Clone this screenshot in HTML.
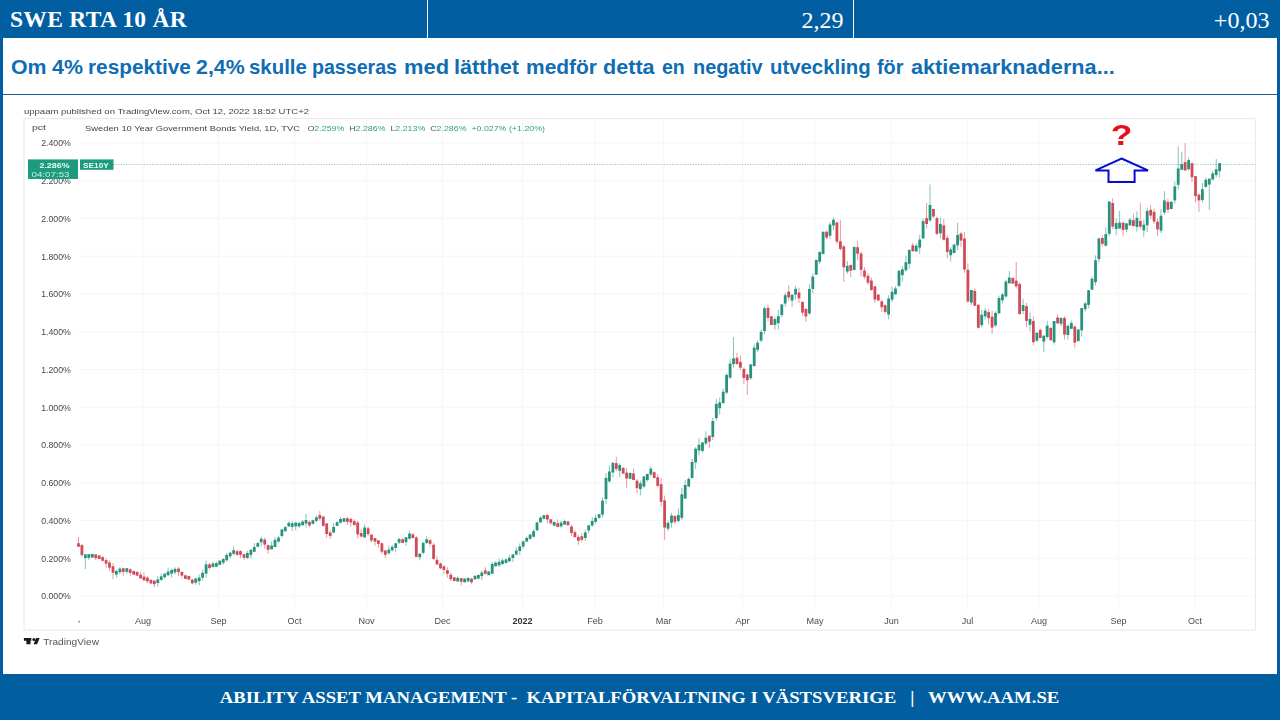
<!DOCTYPE html>
<html><head><meta charset="utf-8">
<style>
html,body{margin:0;padding:0;}
body{width:1280px;height:720px;overflow:hidden;background:#015fa1;position:relative;font-family:"Liberation Sans",sans-serif;}
.abs{position:absolute;}
#panel{left:3px;top:38px;width:1274px;height:636px;background:#fff;}
.hd{color:#fff;font-family:"Liberation Serif",serif;font-size:23.5px;line-height:39.4px;top:0;height:38px;white-space:nowrap;}
.div{top:0;width:1px;height:38px;background:#fff;}
#title{left:0;top:51.9px;color:#0f6db3;font-weight:bold;font-size:20.5px;line-height:30px;white-space:nowrap;transform-origin:0 50%;}
#title span{position:absolute;top:0;white-space:nowrap;transform-origin:0 50%;}
#rule{left:3px;top:94px;width:1274px;height:1.3px;background:#1c5f8e;}
#foot{left:0;width:1280px;top:674px;height:46px;color:#fff;font-family:"Liberation Serif",serif;font-weight:bold;font-size:17px;line-height:48.4px;text-align:center;white-space:pre;}
#foot span{display:inline-block;transform:scaleX(1.1);transform-origin:50% 50%;}
svg text{font-family:"Liberation Sans",sans-serif;}
</style></head><body>
<div id="panel" class="abs"></div>
<div class="abs hd" style="left:10px;font-weight:bold;letter-spacing:.3px">SWE RTA 10 ÅR</div>
<div class="abs div" style="left:427px"></div>
<div class="abs hd" style="right:436.6px;font-size:24px;line-height:40.9px">2,29</div>
<div class="abs div" style="left:853px"></div>
<div class="abs hd" style="right:10.6px;font-size:24px;line-height:40.9px">+0,03</div>
<div id="title" class="abs"><span style="left:11.3px;transform:scaleX(1.0413)">Om</span><span style="left:51.9px;transform:scaleX(1.0425)">4%</span><span style="left:87.8px;transform:scaleX(1.0139)">respektive</span><span style="left:195.7px;transform:scaleX(1.0432)">2,4%</span><span style="left:249.4px;transform:scaleX(0.9944)">skulle</span><span style="left:311.9px;transform:scaleX(0.9559)">passeras</span><span style="left:403.8px;transform:scaleX(1.0674)">med</span><span style="left:453.8px;transform:scaleX(1.0569)">lätthet</span><span style="left:525.6px;transform:scaleX(1.0219)">medför</span><span style="left:602.8px;transform:scaleX(1.0535)">detta</span><span style="left:662.2px;transform:scaleX(0.9524)">en</span><span style="left:692.8px;transform:scaleX(0.9696)">negativ</span><span style="left:770.0px;transform:scaleX(0.9927)">utveckling</span><span style="left:876.9px;transform:scaleX(0.9696)">för</span><span style="left:910.6px;transform:scaleX(1.0580)">aktiemarknaderna...</span></div>
<div id="rule" class="abs"></div>
<svg class="abs" style="left:0;top:0" width="1280" height="720" viewBox="0 0 1280 720">
<g id="chart" style="filter:blur(0.45px)">
<!-- frame -->
<rect x="24" y="118.5" width="1231.5" height="511.6" fill="none" stroke="#ebebeb" stroke-width="1.2"/>
<g stroke="#f6f6f6" stroke-width="1">
<line x1="78" y1="596.0" x2="1255" y2="596.0"/>
<line x1="78" y1="558.2" x2="1255" y2="558.2"/>
<line x1="78" y1="520.5" x2="1255" y2="520.5"/>
<line x1="78" y1="482.8" x2="1255" y2="482.8"/>
<line x1="78" y1="445.0" x2="1255" y2="445.0"/>
<line x1="78" y1="407.2" x2="1255" y2="407.2"/>
<line x1="78" y1="369.5" x2="1255" y2="369.5"/>
<line x1="78" y1="331.8" x2="1255" y2="331.8"/>
<line x1="78" y1="294.0" x2="1255" y2="294.0"/>
<line x1="78" y1="256.2" x2="1255" y2="256.2"/>
<line x1="78" y1="218.5" x2="1255" y2="218.5"/>
<line x1="78" y1="180.8" x2="1255" y2="180.8"/>
<line x1="78" y1="143.0" x2="1255" y2="143.0"/>
<line x1="143" y1="119" x2="143" y2="611"/>
<line x1="218.5" y1="119" x2="218.5" y2="611"/>
<line x1="294.5" y1="119" x2="294.5" y2="611"/>
<line x1="366.5" y1="119" x2="366.5" y2="611"/>
<line x1="442.5" y1="119" x2="442.5" y2="611"/>
<line x1="522.5" y1="119" x2="522.5" y2="611"/>
<line x1="595" y1="119" x2="595" y2="611"/>
<line x1="663.5" y1="119" x2="663.5" y2="611"/>
<line x1="742.5" y1="119" x2="742.5" y2="611"/>
<line x1="815" y1="119" x2="815" y2="611"/>
<line x1="891.5" y1="119" x2="891.5" y2="611"/>
<line x1="967.5" y1="119" x2="967.5" y2="611"/>
<line x1="1039" y1="119" x2="1039" y2="611"/>
<line x1="1118.5" y1="119" x2="1118.5" y2="611"/>
<line x1="1195" y1="119" x2="1195" y2="611"/>
</g>
<g font-size="8.7" fill="#484848" text-anchor="end">
<text x="70.8" y="599.3" textLength="29.6" lengthAdjust="spacingAndGlyphs">0.000%</text>
<text x="70.8" y="561.5" textLength="29.6" lengthAdjust="spacingAndGlyphs">0.200%</text>
<text x="70.8" y="523.8" textLength="29.6" lengthAdjust="spacingAndGlyphs">0.400%</text>
<text x="70.8" y="486.1" textLength="29.6" lengthAdjust="spacingAndGlyphs">0.600%</text>
<text x="70.8" y="448.3" textLength="29.6" lengthAdjust="spacingAndGlyphs">0.800%</text>
<text x="70.8" y="410.6" textLength="29.6" lengthAdjust="spacingAndGlyphs">1.000%</text>
<text x="70.8" y="372.8" textLength="29.6" lengthAdjust="spacingAndGlyphs">1.200%</text>
<text x="70.8" y="335.1" textLength="29.6" lengthAdjust="spacingAndGlyphs">1.400%</text>
<text x="70.8" y="297.3" textLength="29.6" lengthAdjust="spacingAndGlyphs">1.600%</text>
<text x="70.8" y="259.6" textLength="29.6" lengthAdjust="spacingAndGlyphs">1.800%</text>
<text x="70.8" y="221.8" textLength="29.6" lengthAdjust="spacingAndGlyphs">2.000%</text>
<text x="70.8" y="184.1" textLength="29.6" lengthAdjust="spacingAndGlyphs">2.200%</text>
<text x="70.8" y="146.3" textLength="29.6" lengthAdjust="spacingAndGlyphs">2.400%</text>
</g>
<g font-size="8.5" fill="#4a4a4a" text-anchor="middle">
<text transform="translate(143 623.6) scale(1.07 1)">Aug</text>
<text transform="translate(218.5 623.6) scale(1.07 1)">Sep</text>
<text transform="translate(294.5 623.6) scale(1.07 1)">Oct</text>
<text transform="translate(366.5 623.6) scale(1.07 1)">Nov</text>
<text transform="translate(442.5 623.6) scale(1.07 1)">Dec</text>
<text transform="translate(522.5 623.6) scale(1.07 1)" font-weight="bold" fill="#333">2022</text>
<text transform="translate(595 623.6) scale(1.07 1)">Feb</text>
<text transform="translate(663.5 623.6) scale(1.07 1)">Mar</text>
<text transform="translate(742.5 623.6) scale(1.07 1)">Apr</text>
<text transform="translate(815 623.6) scale(1.07 1)">May</text>
<text transform="translate(891.5 623.6) scale(1.07 1)">Jun</text>
<text transform="translate(967.5 623.6) scale(1.07 1)">Jul</text>
<text transform="translate(1039 623.6) scale(1.07 1)">Aug</text>
<text transform="translate(1118.5 623.6) scale(1.07 1)">Sep</text>
<text transform="translate(1195 623.6) scale(1.07 1)">Oct</text>
<rect x="78.5" y="620.8" width="1.2" height="1.8" fill="#666"/>
</g>
<text x="24" y="113.6" font-size="8" fill="#444" textLength="285" lengthAdjust="spacingAndGlyphs">uppaam published on TradingView.com, Oct 12, 2022 18:52 UTC+2</text>
<text x="32" y="129.8" font-size="8" fill="#444" textLength="14" lengthAdjust="spacingAndGlyphs">pct</text>
<text x="85" y="130.8" font-size="8" fill="#444" textLength="215" lengthAdjust="spacingAndGlyphs">Sweden 10 Year Government Bonds Yield, 1D, TVC</text>
<text x="307.5" y="130.8" font-size="8" fill="#2e9f87" xml:space="preserve" textLength="237.5" lengthAdjust="spacingAndGlyphs"><tspan fill="#555">O</tspan>2.259%  <tspan fill="#555">H</tspan>2.286%  <tspan fill="#555">L</tspan>2.213%  <tspan fill="#555">C</tspan>2.286%  +0.027% (+1.20%)</text>
<!-- price line -->
<line x1="113" y1="164.5" x2="1255" y2="164.5" stroke="#8fcdbd" stroke-width="1" stroke-dasharray="1.2 1.4"/>
<rect x="78.0" y="537.0" width="1" height="9.8" fill="#d04b58" opacity=".55"/>
<rect x="77.1" y="543.2" width="2.8" height="3.6" fill="#d04b58"/>
<rect x="81.4" y="544.1" width="1" height="13.0" fill="#d04b58" opacity=".55"/>
<rect x="80.5" y="545.1" width="2.8" height="10.0" fill="#d04b58"/>
<rect x="84.9" y="554.4" width="1" height="14.6" fill="#27937c" opacity=".55"/>
<rect x="84.0" y="554.4" width="2.8" height="3.6" fill="#27937c"/>
<rect x="88.3" y="554.2" width="1" height="5.6" fill="#27937c" opacity=".55"/>
<rect x="87.4" y="554.2" width="2.8" height="3.6" fill="#27937c"/>
<rect x="91.8" y="553.9" width="1" height="4.1" fill="#27937c" opacity=".55"/>
<rect x="90.9" y="553.9" width="2.8" height="3.6" fill="#27937c"/>
<rect x="95.2" y="554.4" width="1" height="5.6" fill="#d04b58" opacity=".55"/>
<rect x="94.3" y="554.4" width="2.8" height="3.6" fill="#d04b58"/>
<rect x="98.7" y="554.9" width="1" height="4.1" fill="#d04b58" opacity=".55"/>
<rect x="97.8" y="555.4" width="2.8" height="3.6" fill="#d04b58"/>
<rect x="102.1" y="555.7" width="1" height="5.6" fill="#d04b58" opacity=".55"/>
<rect x="101.2" y="557.2" width="2.8" height="3.6" fill="#d04b58"/>
<rect x="105.6" y="558.1" width="1" height="9.6" fill="#d04b58" opacity=".55"/>
<rect x="104.7" y="560.1" width="2.8" height="3.6" fill="#d04b58"/>
<rect x="109.0" y="560.5" width="1" height="10.2" fill="#d04b58" opacity=".55"/>
<rect x="108.1" y="562.5" width="2.8" height="5.2" fill="#d04b58"/>
<rect x="112.5" y="563.2" width="1" height="15.8" fill="#d04b58" opacity=".55"/>
<rect x="111.6" y="566.2" width="2.8" height="6.6" fill="#d04b58"/>
<rect x="115.9" y="569.5" width="1" height="8.1" fill="#27937c" opacity=".55"/>
<rect x="115.0" y="571.0" width="2.8" height="3.6" fill="#27937c"/>
<rect x="119.4" y="567.1" width="1" height="7.1" fill="#27937c" opacity=".55"/>
<rect x="118.5" y="568.6" width="2.8" height="3.6" fill="#27937c"/>
<rect x="122.8" y="567.8" width="1" height="8.1" fill="#d04b58" opacity=".55"/>
<rect x="121.9" y="568.3" width="2.8" height="3.6" fill="#d04b58"/>
<rect x="126.3" y="568.2" width="1" height="5.6" fill="#27937c" opacity=".55"/>
<rect x="125.4" y="568.2" width="2.8" height="3.6" fill="#27937c"/>
<rect x="129.7" y="568.3" width="1" height="7.6" fill="#d04b58" opacity=".55"/>
<rect x="128.8" y="569.3" width="2.8" height="3.6" fill="#d04b58"/>
<rect x="133.2" y="571.0" width="1" height="3.6" fill="#d04b58" opacity=".55"/>
<rect x="132.3" y="571.0" width="2.8" height="3.6" fill="#d04b58"/>
<rect x="136.6" y="571.0" width="1" height="5.1" fill="#d04b58" opacity=".55"/>
<rect x="135.7" y="572.0" width="2.8" height="3.6" fill="#d04b58"/>
<rect x="140.1" y="571.7" width="1" height="6.7" fill="#d04b58" opacity=".55"/>
<rect x="139.2" y="574.7" width="2.8" height="3.7" fill="#d04b58"/>
<rect x="143.5" y="572.6" width="1" height="8.6" fill="#d04b58" opacity=".55"/>
<rect x="142.6" y="576.6" width="2.8" height="3.6" fill="#d04b58"/>
<rect x="146.9" y="576.2" width="1" height="7.1" fill="#d04b58" opacity=".55"/>
<rect x="146.0" y="577.7" width="2.8" height="3.6" fill="#d04b58"/>
<rect x="150.4" y="579.8" width="1" height="4.6" fill="#d04b58" opacity=".55"/>
<rect x="149.5" y="579.8" width="2.8" height="3.6" fill="#d04b58"/>
<rect x="153.8" y="580.6" width="1" height="6.6" fill="#d04b58" opacity=".55"/>
<rect x="152.9" y="580.6" width="2.8" height="3.6" fill="#d04b58"/>
<rect x="157.3" y="576.4" width="1" height="10.6" fill="#27937c" opacity=".55"/>
<rect x="156.4" y="579.4" width="2.8" height="3.6" fill="#27937c"/>
<rect x="160.7" y="573.3" width="1" height="7.6" fill="#27937c" opacity=".55"/>
<rect x="159.8" y="576.3" width="2.8" height="3.6" fill="#27937c"/>
<rect x="164.2" y="573.1" width="1" height="6.1" fill="#27937c" opacity=".55"/>
<rect x="163.3" y="573.6" width="2.8" height="3.6" fill="#27937c"/>
<rect x="167.6" y="567.6" width="1" height="8.6" fill="#27937c" opacity=".55"/>
<rect x="166.7" y="571.6" width="2.8" height="3.6" fill="#27937c"/>
<rect x="171.1" y="568.5" width="1" height="9.1" fill="#27937c" opacity=".55"/>
<rect x="170.2" y="570.0" width="2.8" height="3.6" fill="#27937c"/>
<rect x="174.5" y="567.3" width="1" height="7.1" fill="#27937c" opacity=".55"/>
<rect x="173.6" y="568.8" width="2.8" height="3.6" fill="#27937c"/>
<rect x="178.0" y="567.1" width="1" height="9.1" fill="#d04b58" opacity=".55"/>
<rect x="177.1" y="568.6" width="2.8" height="3.6" fill="#d04b58"/>
<rect x="181.4" y="571.0" width="1" height="7.6" fill="#d04b58" opacity=".55"/>
<rect x="180.5" y="572.0" width="2.8" height="3.6" fill="#d04b58"/>
<rect x="184.9" y="574.8" width="1" height="4.1" fill="#d04b58" opacity=".55"/>
<rect x="184.0" y="575.3" width="2.8" height="3.6" fill="#d04b58"/>
<rect x="188.3" y="575.5" width="1" height="4.1" fill="#d04b58" opacity=".55"/>
<rect x="187.4" y="576.0" width="2.8" height="3.6" fill="#d04b58"/>
<rect x="191.8" y="578.7" width="1" height="5.6" fill="#d04b58" opacity=".55"/>
<rect x="190.9" y="579.7" width="2.8" height="3.6" fill="#d04b58"/>
<rect x="195.2" y="577.5" width="1" height="7.2" fill="#27937c" opacity=".55"/>
<rect x="194.3" y="578.5" width="2.8" height="4.2" fill="#27937c"/>
<rect x="198.7" y="574.6" width="1" height="10.6" fill="#27937c" opacity=".55"/>
<rect x="197.8" y="577.6" width="2.8" height="3.6" fill="#27937c"/>
<rect x="202.1" y="569.8" width="1" height="10.9" fill="#27937c" opacity=".55"/>
<rect x="201.2" y="572.8" width="2.8" height="4.9" fill="#27937c"/>
<rect x="205.6" y="560.4" width="1" height="17.2" fill="#27937c" opacity=".55"/>
<rect x="204.7" y="564.4" width="2.8" height="9.2" fill="#27937c"/>
<rect x="209.0" y="562.9" width="1" height="6.6" fill="#d04b58" opacity=".55"/>
<rect x="208.1" y="564.4" width="2.8" height="3.6" fill="#d04b58"/>
<rect x="212.4" y="562.0" width="1" height="5.1" fill="#27937c" opacity=".55"/>
<rect x="211.5" y="563.5" width="2.8" height="3.6" fill="#27937c"/>
<rect x="215.9" y="561.6" width="1" height="5.6" fill="#27937c" opacity=".55"/>
<rect x="215.0" y="563.1" width="2.8" height="3.6" fill="#27937c"/>
<rect x="219.3" y="560.6" width="1" height="4.3" fill="#27937c" opacity=".55"/>
<rect x="218.4" y="560.6" width="2.8" height="4.3" fill="#27937c"/>
<rect x="222.8" y="558.1" width="1" height="6.6" fill="#27937c" opacity=".55"/>
<rect x="221.9" y="559.1" width="2.8" height="3.6" fill="#27937c"/>
<rect x="226.2" y="553.0" width="1" height="8.7" fill="#27937c" opacity=".55"/>
<rect x="225.3" y="555.0" width="2.8" height="5.2" fill="#27937c"/>
<rect x="229.7" y="551.7" width="1" height="6.6" fill="#27937c" opacity=".55"/>
<rect x="228.8" y="552.7" width="2.8" height="3.6" fill="#27937c"/>
<rect x="233.1" y="546.2" width="1" height="9.1" fill="#27937c" opacity=".55"/>
<rect x="232.2" y="550.2" width="2.8" height="3.6" fill="#27937c"/>
<rect x="236.6" y="549.7" width="1" height="6.1" fill="#d04b58" opacity=".55"/>
<rect x="235.7" y="551.2" width="2.8" height="3.6" fill="#d04b58"/>
<rect x="240.0" y="550.2" width="1" height="7.6" fill="#d04b58" opacity=".55"/>
<rect x="239.1" y="551.2" width="2.8" height="3.6" fill="#d04b58"/>
<rect x="243.5" y="553.7" width="1" height="6.1" fill="#d04b58" opacity=".55"/>
<rect x="242.6" y="554.2" width="2.8" height="3.6" fill="#d04b58"/>
<rect x="246.9" y="551.0" width="1" height="7.9" fill="#27937c" opacity=".55"/>
<rect x="246.0" y="553.0" width="2.8" height="4.9" fill="#27937c"/>
<rect x="250.4" y="549.6" width="1" height="9.3" fill="#27937c" opacity=".55"/>
<rect x="249.5" y="549.6" width="2.8" height="5.3" fill="#27937c"/>
<rect x="253.8" y="543.0" width="1" height="8.8" fill="#27937c" opacity=".55"/>
<rect x="252.9" y="547.0" width="2.8" height="4.8" fill="#27937c"/>
<rect x="257.3" y="542.1" width="1" height="5.1" fill="#27937c" opacity=".55"/>
<rect x="256.4" y="543.1" width="2.8" height="3.6" fill="#27937c"/>
<rect x="260.7" y="536.7" width="1" height="9.6" fill="#27937c" opacity=".55"/>
<rect x="259.8" y="538.7" width="2.8" height="3.6" fill="#27937c"/>
<rect x="264.2" y="537.6" width="1" height="11.0" fill="#d04b58" opacity=".55"/>
<rect x="263.3" y="539.6" width="2.8" height="5.0" fill="#d04b58"/>
<rect x="267.6" y="544.6" width="1" height="9.2" fill="#d04b58" opacity=".55"/>
<rect x="266.7" y="545.1" width="2.8" height="4.7" fill="#d04b58"/>
<rect x="271.1" y="541.6" width="1" height="8.1" fill="#27937c" opacity=".55"/>
<rect x="270.2" y="545.6" width="2.8" height="3.6" fill="#27937c"/>
<rect x="274.5" y="536.9" width="1" height="10.1" fill="#27937c" opacity=".55"/>
<rect x="273.6" y="539.9" width="2.8" height="7.1" fill="#27937c"/>
<rect x="278.0" y="536.1" width="1" height="6.5" fill="#27937c" opacity=".55"/>
<rect x="277.1" y="537.6" width="2.8" height="4.0" fill="#27937c"/>
<rect x="281.4" y="528.5" width="1" height="9.0" fill="#27937c" opacity=".55"/>
<rect x="280.5" y="529.5" width="2.8" height="6.5" fill="#27937c"/>
<rect x="284.8" y="526.1" width="1" height="6.0" fill="#27937c" opacity=".55"/>
<rect x="283.9" y="527.1" width="2.8" height="4.0" fill="#27937c"/>
<rect x="288.3" y="521.3" width="1" height="5.6" fill="#27937c" opacity=".55"/>
<rect x="287.4" y="522.8" width="2.8" height="3.6" fill="#27937c"/>
<rect x="291.7" y="521.3" width="1" height="9.6" fill="#27937c" opacity=".55"/>
<rect x="290.8" y="523.3" width="2.8" height="3.6" fill="#27937c"/>
<rect x="295.2" y="521.7" width="1" height="8.6" fill="#27937c" opacity=".55"/>
<rect x="294.3" y="522.7" width="2.8" height="3.6" fill="#27937c"/>
<rect x="298.6" y="522.8" width="1" height="5.1" fill="#27937c" opacity=".55"/>
<rect x="297.7" y="522.8" width="2.8" height="3.6" fill="#27937c"/>
<rect x="302.1" y="520.1" width="1" height="5.6" fill="#27937c" opacity=".55"/>
<rect x="301.2" y="521.6" width="2.8" height="3.6" fill="#27937c"/>
<rect x="305.5" y="514.0" width="1" height="13.6" fill="#27937c" opacity=".55"/>
<rect x="304.6" y="520.0" width="2.8" height="3.6" fill="#27937c"/>
<rect x="309.0" y="520.4" width="1" height="6.6" fill="#d04b58" opacity=".55"/>
<rect x="308.1" y="521.9" width="2.8" height="3.6" fill="#d04b58"/>
<rect x="312.4" y="519.7" width="1" height="4.6" fill="#27937c" opacity=".55"/>
<rect x="311.5" y="520.2" width="2.8" height="3.6" fill="#27937c"/>
<rect x="315.9" y="515.3" width="1" height="7.1" fill="#27937c" opacity=".55"/>
<rect x="315.0" y="517.3" width="2.8" height="3.6" fill="#27937c"/>
<rect x="319.3" y="511.1" width="1" height="9.6" fill="#d04b58" opacity=".55"/>
<rect x="318.4" y="515.1" width="2.8" height="3.6" fill="#d04b58"/>
<rect x="322.8" y="515.6" width="1" height="10.8" fill="#d04b58" opacity=".55"/>
<rect x="321.9" y="516.6" width="2.8" height="9.3" fill="#d04b58"/>
<rect x="326.2" y="523.4" width="1" height="14.6" fill="#d04b58" opacity=".55"/>
<rect x="325.3" y="523.4" width="2.8" height="10.6" fill="#d04b58"/>
<rect x="329.7" y="530.4" width="1" height="8.6" fill="#d04b58" opacity=".55"/>
<rect x="328.8" y="532.4" width="2.8" height="3.6" fill="#d04b58"/>
<rect x="333.1" y="523.0" width="1" height="10.0" fill="#27937c" opacity=".55"/>
<rect x="332.2" y="527.0" width="2.8" height="5.5" fill="#27937c"/>
<rect x="336.6" y="521.2" width="1" height="5.1" fill="#27937c" opacity=".55"/>
<rect x="335.7" y="522.2" width="2.8" height="3.6" fill="#27937c"/>
<rect x="340.0" y="517.0" width="1" height="6.6" fill="#27937c" opacity=".55"/>
<rect x="339.1" y="519.0" width="2.8" height="3.6" fill="#27937c"/>
<rect x="343.5" y="517.7" width="1" height="4.1" fill="#27937c" opacity=".55"/>
<rect x="342.6" y="518.2" width="2.8" height="3.6" fill="#27937c"/>
<rect x="346.9" y="516.8" width="1" height="8.1" fill="#d04b58" opacity=".55"/>
<rect x="346.0" y="518.3" width="2.8" height="3.6" fill="#d04b58"/>
<rect x="350.3" y="517.4" width="1" height="9.1" fill="#d04b58" opacity=".55"/>
<rect x="349.4" y="518.9" width="2.8" height="3.6" fill="#d04b58"/>
<rect x="353.8" y="519.2" width="1" height="6.3" fill="#d04b58" opacity=".55"/>
<rect x="352.9" y="521.2" width="2.8" height="3.8" fill="#d04b58"/>
<rect x="357.2" y="521.1" width="1" height="17.3" fill="#d04b58" opacity=".55"/>
<rect x="356.3" y="522.6" width="2.8" height="11.8" fill="#d04b58"/>
<rect x="360.7" y="529.0" width="1" height="8.1" fill="#d04b58" opacity=".55"/>
<rect x="359.8" y="533.0" width="2.8" height="3.6" fill="#d04b58"/>
<rect x="364.1" y="524.5" width="1" height="13.0" fill="#27937c" opacity=".55"/>
<rect x="363.2" y="527.5" width="2.8" height="10.0" fill="#27937c"/>
<rect x="367.6" y="526.3" width="1" height="9.8" fill="#d04b58" opacity=".55"/>
<rect x="366.7" y="528.3" width="2.8" height="5.8" fill="#d04b58"/>
<rect x="371.0" y="534.5" width="1" height="7.9" fill="#d04b58" opacity=".55"/>
<rect x="370.1" y="534.5" width="2.8" height="5.9" fill="#d04b58"/>
<rect x="374.5" y="538.0" width="1" height="7.6" fill="#d04b58" opacity=".55"/>
<rect x="373.6" y="538.0" width="2.8" height="3.6" fill="#d04b58"/>
<rect x="377.9" y="540.3" width="1" height="7.6" fill="#d04b58" opacity=".55"/>
<rect x="377.0" y="540.3" width="2.8" height="3.6" fill="#d04b58"/>
<rect x="381.4" y="542.3" width="1" height="11.4" fill="#d04b58" opacity=".55"/>
<rect x="380.5" y="543.3" width="2.8" height="8.4" fill="#d04b58"/>
<rect x="384.8" y="550.0" width="1" height="7.8" fill="#d04b58" opacity=".55"/>
<rect x="383.9" y="550.5" width="2.8" height="4.3" fill="#d04b58"/>
<rect x="388.3" y="545.6" width="1" height="9.1" fill="#27937c" opacity=".55"/>
<rect x="387.4" y="549.6" width="2.8" height="3.6" fill="#27937c"/>
<rect x="391.7" y="544.8" width="1" height="6.6" fill="#27937c" opacity=".55"/>
<rect x="390.8" y="546.8" width="2.8" height="3.6" fill="#27937c"/>
<rect x="395.2" y="542.8" width="1" height="9.1" fill="#27937c" opacity=".55"/>
<rect x="394.3" y="543.3" width="2.8" height="4.6" fill="#27937c"/>
<rect x="398.6" y="537.5" width="1" height="6.6" fill="#27937c" opacity=".55"/>
<rect x="397.7" y="539.0" width="2.8" height="3.6" fill="#27937c"/>
<rect x="402.1" y="537.8" width="1" height="5.1" fill="#d04b58" opacity=".55"/>
<rect x="401.2" y="539.3" width="2.8" height="3.6" fill="#d04b58"/>
<rect x="405.5" y="537.2" width="1" height="8.9" fill="#27937c" opacity=".55"/>
<rect x="404.6" y="537.2" width="2.8" height="4.9" fill="#27937c"/>
<rect x="409.0" y="530.5" width="1" height="9.2" fill="#27937c" opacity=".55"/>
<rect x="408.1" y="533.5" width="2.8" height="5.2" fill="#27937c"/>
<rect x="412.4" y="532.9" width="1" height="5.6" fill="#d04b58" opacity=".55"/>
<rect x="411.5" y="534.4" width="2.8" height="3.6" fill="#d04b58"/>
<rect x="415.8" y="536.0" width="1" height="21.3" fill="#d04b58" opacity=".55"/>
<rect x="414.9" y="537.5" width="2.8" height="19.3" fill="#d04b58"/>
<rect x="419.3" y="553.2" width="1" height="7.1" fill="#27937c" opacity=".55"/>
<rect x="418.4" y="553.7" width="2.8" height="3.6" fill="#27937c"/>
<rect x="422.7" y="541.9" width="1" height="12.4" fill="#27937c" opacity=".55"/>
<rect x="421.8" y="542.9" width="2.8" height="9.9" fill="#27937c"/>
<rect x="426.2" y="536.3" width="1" height="7.6" fill="#27937c" opacity=".55"/>
<rect x="425.3" y="539.3" width="2.8" height="3.6" fill="#27937c"/>
<rect x="429.6" y="538.7" width="1" height="8.1" fill="#d04b58" opacity=".55"/>
<rect x="428.7" y="540.2" width="2.8" height="3.6" fill="#d04b58"/>
<rect x="433.1" y="542.8" width="1" height="17.1" fill="#d04b58" opacity=".55"/>
<rect x="432.2" y="544.8" width="2.8" height="14.1" fill="#d04b58"/>
<rect x="436.5" y="555.8" width="1" height="9.1" fill="#d04b58" opacity=".55"/>
<rect x="435.6" y="559.8" width="2.8" height="4.6" fill="#d04b58"/>
<rect x="440.0" y="562.5" width="1" height="6.8" fill="#d04b58" opacity=".55"/>
<rect x="439.1" y="563.5" width="2.8" height="4.8" fill="#d04b58"/>
<rect x="443.4" y="565.3" width="1" height="8.6" fill="#d04b58" opacity=".55"/>
<rect x="442.5" y="566.3" width="2.8" height="3.6" fill="#d04b58"/>
<rect x="446.9" y="567.2" width="1" height="10.6" fill="#d04b58" opacity=".55"/>
<rect x="446.0" y="570.2" width="2.8" height="3.6" fill="#d04b58"/>
<rect x="450.3" y="572.7" width="1" height="8.5" fill="#d04b58" opacity=".55"/>
<rect x="449.4" y="574.7" width="2.8" height="4.5" fill="#d04b58"/>
<rect x="453.8" y="577.3" width="1" height="4.6" fill="#d04b58" opacity=".55"/>
<rect x="452.9" y="577.3" width="2.8" height="3.6" fill="#d04b58"/>
<rect x="457.2" y="576.4" width="1" height="5.1" fill="#27937c" opacity=".55"/>
<rect x="456.3" y="577.9" width="2.8" height="3.6" fill="#27937c"/>
<rect x="460.7" y="578.1" width="1" height="7.6" fill="#d04b58" opacity=".55"/>
<rect x="459.8" y="578.1" width="2.8" height="3.6" fill="#d04b58"/>
<rect x="464.1" y="578.2" width="1" height="4.1" fill="#27937c" opacity=".55"/>
<rect x="463.2" y="578.7" width="2.8" height="3.6" fill="#27937c"/>
<rect x="467.6" y="577.8" width="1" height="4.6" fill="#27937c" opacity=".55"/>
<rect x="466.7" y="577.8" width="2.8" height="3.6" fill="#27937c"/>
<rect x="471.0" y="577.7" width="1" height="6.6" fill="#d04b58" opacity=".55"/>
<rect x="470.1" y="578.7" width="2.8" height="3.6" fill="#d04b58"/>
<rect x="474.5" y="575.3" width="1" height="4.1" fill="#27937c" opacity=".55"/>
<rect x="473.6" y="575.8" width="2.8" height="3.6" fill="#27937c"/>
<rect x="477.9" y="574.5" width="1" height="4.6" fill="#27937c" opacity=".55"/>
<rect x="477.0" y="575.0" width="2.8" height="3.6" fill="#27937c"/>
<rect x="481.3" y="570.5" width="1" height="9.6" fill="#27937c" opacity=".55"/>
<rect x="480.4" y="572.5" width="2.8" height="3.6" fill="#27937c"/>
<rect x="484.8" y="567.3" width="1" height="7.1" fill="#d04b58" opacity=".55"/>
<rect x="483.9" y="570.3" width="2.8" height="3.6" fill="#d04b58"/>
<rect x="488.2" y="570.6" width="1" height="4.6" fill="#27937c" opacity=".55"/>
<rect x="487.3" y="571.6" width="2.8" height="3.6" fill="#27937c"/>
<rect x="491.7" y="561.9" width="1" height="12.3" fill="#27937c" opacity=".55"/>
<rect x="490.8" y="563.9" width="2.8" height="9.8" fill="#27937c"/>
<rect x="495.1" y="561.2" width="1" height="5.1" fill="#27937c" opacity=".55"/>
<rect x="494.2" y="562.7" width="2.8" height="3.6" fill="#27937c"/>
<rect x="498.6" y="558.8" width="1" height="8.1" fill="#27937c" opacity=".55"/>
<rect x="497.7" y="561.8" width="2.8" height="3.6" fill="#27937c"/>
<rect x="502.0" y="558.4" width="1" height="6.6" fill="#27937c" opacity=".55"/>
<rect x="501.1" y="560.4" width="2.8" height="3.6" fill="#27937c"/>
<rect x="505.5" y="558.4" width="1" height="5.1" fill="#27937c" opacity=".55"/>
<rect x="504.6" y="559.4" width="2.8" height="3.6" fill="#27937c"/>
<rect x="508.9" y="554.7" width="1" height="7.1" fill="#27937c" opacity=".55"/>
<rect x="508.0" y="557.7" width="2.8" height="3.6" fill="#27937c"/>
<rect x="512.4" y="554.4" width="1" height="7.6" fill="#27937c" opacity=".55"/>
<rect x="511.5" y="554.4" width="2.8" height="3.6" fill="#27937c"/>
<rect x="515.8" y="547.6" width="1" height="7.9" fill="#27937c" opacity=".55"/>
<rect x="514.9" y="550.6" width="2.8" height="3.9" fill="#27937c"/>
<rect x="519.3" y="543.4" width="1" height="11.6" fill="#27937c" opacity=".55"/>
<rect x="518.4" y="546.4" width="2.8" height="4.6" fill="#27937c"/>
<rect x="522.7" y="540.4" width="1" height="8.2" fill="#27937c" opacity=".55"/>
<rect x="521.8" y="541.4" width="2.8" height="5.2" fill="#27937c"/>
<rect x="526.2" y="536.4" width="1" height="5.6" fill="#27937c" opacity=".55"/>
<rect x="525.3" y="537.9" width="2.8" height="3.6" fill="#27937c"/>
<rect x="529.6" y="533.6" width="1" height="6.2" fill="#27937c" opacity=".55"/>
<rect x="528.7" y="534.6" width="2.8" height="4.2" fill="#27937c"/>
<rect x="533.1" y="529.1" width="1" height="8.6" fill="#27937c" opacity=".55"/>
<rect x="532.2" y="531.1" width="2.8" height="5.6" fill="#27937c"/>
<rect x="536.5" y="521.5" width="1" height="9.4" fill="#27937c" opacity=".55"/>
<rect x="535.6" y="522.5" width="2.8" height="7.9" fill="#27937c"/>
<rect x="540.0" y="516.1" width="1" height="6.3" fill="#27937c" opacity=".55"/>
<rect x="539.1" y="517.6" width="2.8" height="4.8" fill="#27937c"/>
<rect x="543.4" y="514.7" width="1" height="4.6" fill="#27937c" opacity=".55"/>
<rect x="542.5" y="515.2" width="2.8" height="3.6" fill="#27937c"/>
<rect x="546.9" y="514.0" width="1" height="9.5" fill="#d04b58" opacity=".55"/>
<rect x="546.0" y="515.0" width="2.8" height="4.5" fill="#d04b58"/>
<rect x="550.3" y="519.3" width="1" height="5.4" fill="#d04b58" opacity=".55"/>
<rect x="549.4" y="519.3" width="2.8" height="3.9" fill="#d04b58"/>
<rect x="553.7" y="521.5" width="1" height="4.1" fill="#27937c" opacity=".55"/>
<rect x="552.8" y="522.0" width="2.8" height="3.6" fill="#27937c"/>
<rect x="557.2" y="519.3" width="1" height="8.1" fill="#d04b58" opacity=".55"/>
<rect x="556.3" y="523.3" width="2.8" height="3.6" fill="#d04b58"/>
<rect x="560.6" y="520.7" width="1" height="7.1" fill="#27937c" opacity=".55"/>
<rect x="559.7" y="522.7" width="2.8" height="3.6" fill="#27937c"/>
<rect x="564.1" y="519.5" width="1" height="5.6" fill="#27937c" opacity=".55"/>
<rect x="563.2" y="521.0" width="2.8" height="3.6" fill="#27937c"/>
<rect x="567.5" y="521.0" width="1" height="4.3" fill="#d04b58" opacity=".55"/>
<rect x="566.6" y="521.5" width="2.8" height="3.8" fill="#d04b58"/>
<rect x="571.0" y="524.5" width="1" height="11.5" fill="#d04b58" opacity=".55"/>
<rect x="570.1" y="526.5" width="2.8" height="6.5" fill="#d04b58"/>
<rect x="574.4" y="530.2" width="1" height="7.4" fill="#d04b58" opacity=".55"/>
<rect x="573.5" y="532.2" width="2.8" height="4.9" fill="#d04b58"/>
<rect x="577.9" y="535.1" width="1" height="9.6" fill="#d04b58" opacity=".55"/>
<rect x="577.0" y="537.1" width="2.8" height="3.6" fill="#d04b58"/>
<rect x="581.3" y="533.2" width="1" height="8.6" fill="#d04b58" opacity=".55"/>
<rect x="580.4" y="536.2" width="2.8" height="3.6" fill="#d04b58"/>
<rect x="584.8" y="529.4" width="1" height="11.6" fill="#27937c" opacity=".55"/>
<rect x="583.9" y="532.4" width="2.8" height="5.6" fill="#27937c"/>
<rect x="588.2" y="524.8" width="1" height="8.6" fill="#27937c" opacity=".55"/>
<rect x="587.3" y="525.3" width="2.8" height="5.1" fill="#27937c"/>
<rect x="591.7" y="517.0" width="1" height="10.0" fill="#27937c" opacity=".55"/>
<rect x="590.8" y="521.0" width="2.8" height="4.5" fill="#27937c"/>
<rect x="595.1" y="514.9" width="1" height="8.9" fill="#27937c" opacity=".55"/>
<rect x="594.2" y="517.9" width="2.8" height="3.9" fill="#27937c"/>
<rect x="598.6" y="514.2" width="1" height="5.1" fill="#27937c" opacity=".55"/>
<rect x="597.7" y="514.2" width="2.8" height="3.6" fill="#27937c"/>
<rect x="602.0" y="497.5" width="1" height="20.3" fill="#27937c" opacity=".55"/>
<rect x="601.1" y="500.7" width="2.8" height="13.9" fill="#27937c"/>
<rect x="605.5" y="473.1" width="1" height="30.7" fill="#27937c" opacity=".55"/>
<rect x="604.6" y="477.9" width="2.8" height="21.1" fill="#27937c"/>
<rect x="608.9" y="465.1" width="1" height="17.8" fill="#27937c" opacity=".55"/>
<rect x="608.0" y="471.5" width="2.8" height="9.8" fill="#27937c"/>
<rect x="612.4" y="462.0" width="1" height="15.3" fill="#27937c" opacity=".55"/>
<rect x="611.5" y="462.8" width="2.8" height="9.7" fill="#27937c"/>
<rect x="615.8" y="456.7" width="1" height="14.6" fill="#d04b58" opacity=".55"/>
<rect x="614.9" y="463.1" width="2.8" height="5.8" fill="#d04b58"/>
<rect x="619.2" y="463.4" width="1" height="13.8" fill="#27937c" opacity=".55"/>
<rect x="618.3" y="465.0" width="2.8" height="5.8" fill="#27937c"/>
<rect x="622.7" y="467.1" width="1" height="6.6" fill="#d04b58" opacity=".55"/>
<rect x="621.8" y="467.9" width="2.8" height="5.8" fill="#d04b58"/>
<rect x="626.1" y="467.8" width="1" height="20.2" fill="#d04b58" opacity=".55"/>
<rect x="625.2" y="472.6" width="2.8" height="5.8" fill="#d04b58"/>
<rect x="629.6" y="472.2" width="1" height="6.6" fill="#27937c" opacity=".55"/>
<rect x="628.7" y="473.0" width="2.8" height="5.8" fill="#27937c"/>
<rect x="633.0" y="468.6" width="1" height="11.4" fill="#d04b58" opacity=".55"/>
<rect x="632.1" y="473.4" width="2.8" height="6.6" fill="#d04b58"/>
<rect x="636.5" y="479.1" width="1" height="13.8" fill="#d04b58" opacity=".55"/>
<rect x="635.6" y="480.7" width="2.8" height="7.4" fill="#d04b58"/>
<rect x="639.9" y="480.9" width="1" height="14.6" fill="#27937c" opacity=".55"/>
<rect x="639.0" y="483.3" width="2.8" height="5.8" fill="#27937c"/>
<rect x="643.4" y="475.7" width="1" height="12.4" fill="#27937c" opacity=".55"/>
<rect x="642.5" y="476.5" width="2.8" height="10.0" fill="#27937c"/>
<rect x="646.8" y="473.9" width="1" height="7.8" fill="#27937c" opacity=".55"/>
<rect x="645.9" y="473.9" width="2.8" height="6.2" fill="#27937c"/>
<rect x="650.3" y="466.3" width="1" height="9.8" fill="#27937c" opacity=".55"/>
<rect x="649.4" y="468.7" width="2.8" height="5.8" fill="#27937c"/>
<rect x="653.7" y="471.4" width="1" height="6.6" fill="#d04b58" opacity=".55"/>
<rect x="652.8" y="472.2" width="2.8" height="5.8" fill="#d04b58"/>
<rect x="657.2" y="474.0" width="1" height="13.4" fill="#d04b58" opacity=".55"/>
<rect x="656.3" y="477.2" width="2.8" height="8.6" fill="#d04b58"/>
<rect x="660.6" y="477.8" width="1" height="28.8" fill="#d04b58" opacity=".55"/>
<rect x="659.7" y="484.2" width="2.8" height="17.6" fill="#d04b58"/>
<rect x="664.1" y="495.6" width="1" height="44.4" fill="#d04b58" opacity=".55"/>
<rect x="663.2" y="500.4" width="2.8" height="27.1" fill="#d04b58"/>
<rect x="667.5" y="520.5" width="1" height="10.6" fill="#27937c" opacity=".55"/>
<rect x="666.6" y="522.9" width="2.8" height="5.8" fill="#27937c"/>
<rect x="671.0" y="513.1" width="1" height="14.5" fill="#27937c" opacity=".55"/>
<rect x="670.1" y="515.5" width="2.8" height="7.3" fill="#27937c"/>
<rect x="674.4" y="515.2" width="1" height="9.0" fill="#d04b58" opacity=".55"/>
<rect x="673.5" y="516.0" width="2.8" height="5.8" fill="#d04b58"/>
<rect x="677.9" y="508.7" width="1" height="13.8" fill="#27937c" opacity=".55"/>
<rect x="677.0" y="515.1" width="2.8" height="5.8" fill="#27937c"/>
<rect x="681.3" y="487.9" width="1" height="32.3" fill="#27937c" opacity=".55"/>
<rect x="680.4" y="494.3" width="2.8" height="23.5" fill="#27937c"/>
<rect x="684.7" y="480.2" width="1" height="18.4" fill="#27937c" opacity=".55"/>
<rect x="683.8" y="485.0" width="2.8" height="13.6" fill="#27937c"/>
<rect x="688.2" y="477.3" width="1" height="9.2" fill="#27937c" opacity=".55"/>
<rect x="687.3" y="478.9" width="2.8" height="7.6" fill="#27937c"/>
<rect x="691.6" y="458.8" width="1" height="19.3" fill="#27937c" opacity=".55"/>
<rect x="690.7" y="462.0" width="2.8" height="16.1" fill="#27937c"/>
<rect x="695.1" y="447.1" width="1" height="21.7" fill="#27937c" opacity=".55"/>
<rect x="694.2" y="448.7" width="2.8" height="13.7" fill="#27937c"/>
<rect x="698.5" y="438.3" width="1" height="17.0" fill="#27937c" opacity=".55"/>
<rect x="697.6" y="444.7" width="2.8" height="5.8" fill="#27937c"/>
<rect x="702.0" y="441.7" width="1" height="10.8" fill="#27937c" opacity=".55"/>
<rect x="701.1" y="442.5" width="2.8" height="8.4" fill="#27937c"/>
<rect x="705.4" y="431.3" width="1" height="13.8" fill="#27937c" opacity=".55"/>
<rect x="704.5" y="437.7" width="2.8" height="5.8" fill="#27937c"/>
<rect x="708.9" y="435.7" width="1" height="12.2" fill="#d04b58" opacity=".55"/>
<rect x="708.0" y="435.7" width="2.8" height="5.8" fill="#d04b58"/>
<rect x="712.3" y="417.8" width="1" height="22.3" fill="#27937c" opacity=".55"/>
<rect x="711.4" y="421.0" width="2.8" height="15.9" fill="#27937c"/>
<rect x="715.8" y="399.1" width="1" height="21.5" fill="#27937c" opacity=".55"/>
<rect x="714.9" y="403.9" width="2.8" height="14.3" fill="#27937c"/>
<rect x="719.2" y="397.6" width="1" height="17.0" fill="#27937c" opacity=".55"/>
<rect x="718.3" y="402.4" width="2.8" height="5.8" fill="#27937c"/>
<rect x="722.7" y="388.5" width="1" height="15.3" fill="#27937c" opacity=".55"/>
<rect x="721.8" y="391.7" width="2.8" height="11.3" fill="#27937c"/>
<rect x="726.1" y="373.3" width="1" height="20.9" fill="#27937c" opacity=".55"/>
<rect x="725.2" y="374.9" width="2.8" height="17.7" fill="#27937c"/>
<rect x="729.6" y="358.8" width="1" height="20.4" fill="#27937c" opacity=".55"/>
<rect x="728.7" y="363.6" width="2.8" height="14.0" fill="#27937c"/>
<rect x="733.0" y="337.0" width="1" height="30.4" fill="#27937c" opacity=".55"/>
<rect x="732.1" y="358.3" width="2.8" height="5.8" fill="#27937c"/>
<rect x="736.5" y="352.9" width="1" height="11.9" fill="#d04b58" opacity=".55"/>
<rect x="735.6" y="357.7" width="2.8" height="6.3" fill="#d04b58"/>
<rect x="739.9" y="355.5" width="1" height="14.6" fill="#d04b58" opacity=".55"/>
<rect x="739.0" y="361.9" width="2.8" height="5.8" fill="#d04b58"/>
<rect x="743.4" y="367.3" width="1" height="17.1" fill="#d04b58" opacity=".55"/>
<rect x="742.5" y="368.9" width="2.8" height="9.1" fill="#d04b58"/>
<rect x="746.8" y="373.7" width="1" height="21.3" fill="#d04b58" opacity=".55"/>
<rect x="745.9" y="374.5" width="2.8" height="5.8" fill="#d04b58"/>
<rect x="750.2" y="364.4" width="1" height="15.4" fill="#27937c" opacity=".55"/>
<rect x="749.3" y="364.4" width="2.8" height="13.8" fill="#27937c"/>
<rect x="753.7" y="344.4" width="1" height="22.4" fill="#27937c" opacity=".55"/>
<rect x="752.8" y="347.6" width="2.8" height="18.4" fill="#27937c"/>
<rect x="757.1" y="340.3" width="1" height="11.9" fill="#27937c" opacity=".55"/>
<rect x="756.2" y="342.7" width="2.8" height="7.1" fill="#27937c"/>
<rect x="760.6" y="329.5" width="1" height="12.7" fill="#27937c" opacity=".55"/>
<rect x="759.7" y="331.9" width="2.8" height="8.7" fill="#27937c"/>
<rect x="764.0" y="306.6" width="1" height="27.6" fill="#27937c" opacity=".55"/>
<rect x="763.1" y="308.2" width="2.8" height="22.8" fill="#27937c"/>
<rect x="767.5" y="304.7" width="1" height="16.4" fill="#d04b58" opacity=".55"/>
<rect x="766.6" y="307.9" width="2.8" height="10.0" fill="#d04b58"/>
<rect x="770.9" y="315.6" width="1" height="9.4" fill="#d04b58" opacity=".55"/>
<rect x="770.0" y="316.4" width="2.8" height="8.6" fill="#d04b58"/>
<rect x="774.4" y="316.7" width="1" height="13.0" fill="#27937c" opacity=".55"/>
<rect x="773.5" y="319.1" width="2.8" height="5.8" fill="#27937c"/>
<rect x="777.8" y="309.8" width="1" height="19.8" fill="#27937c" opacity=".55"/>
<rect x="776.9" y="316.2" width="2.8" height="7.0" fill="#27937c"/>
<rect x="781.3" y="304.4" width="1" height="13.0" fill="#27937c" opacity=".55"/>
<rect x="780.4" y="304.4" width="2.8" height="10.6" fill="#27937c"/>
<rect x="784.7" y="292.7" width="1" height="14.0" fill="#27937c" opacity=".55"/>
<rect x="783.8" y="295.1" width="2.8" height="8.4" fill="#27937c"/>
<rect x="788.2" y="285.2" width="1" height="15.4" fill="#d04b58" opacity=".55"/>
<rect x="787.3" y="291.6" width="2.8" height="5.8" fill="#d04b58"/>
<rect x="791.6" y="294.0" width="1" height="13.0" fill="#27937c" opacity=".55"/>
<rect x="790.7" y="294.8" width="2.8" height="5.8" fill="#27937c"/>
<rect x="795.1" y="285.6" width="1" height="13.8" fill="#27937c" opacity=".55"/>
<rect x="794.2" y="288.8" width="2.8" height="5.8" fill="#27937c"/>
<rect x="798.5" y="287.7" width="1" height="15.4" fill="#d04b58" opacity=".55"/>
<rect x="797.6" y="292.5" width="2.8" height="5.8" fill="#d04b58"/>
<rect x="802.0" y="301.8" width="1" height="14.0" fill="#d04b58" opacity=".55"/>
<rect x="801.1" y="301.8" width="2.8" height="10.8" fill="#d04b58"/>
<rect x="805.4" y="308.2" width="1" height="13.8" fill="#d04b58" opacity=".55"/>
<rect x="804.5" y="309.0" width="2.8" height="7.5" fill="#d04b58"/>
<rect x="808.9" y="284.1" width="1" height="30.9" fill="#27937c" opacity=".55"/>
<rect x="808.0" y="288.9" width="2.8" height="24.5" fill="#27937c"/>
<rect x="812.3" y="273.4" width="1" height="20.3" fill="#27937c" opacity=".55"/>
<rect x="811.4" y="276.6" width="2.8" height="12.3" fill="#27937c"/>
<rect x="815.8" y="259.9" width="1" height="14.8" fill="#27937c" opacity=".55"/>
<rect x="814.9" y="259.9" width="2.8" height="14.8" fill="#27937c"/>
<rect x="819.2" y="251.2" width="1" height="12.9" fill="#27937c" opacity=".55"/>
<rect x="818.3" y="252.0" width="2.8" height="9.7" fill="#27937c"/>
<rect x="822.6" y="231.7" width="1" height="22.4" fill="#27937c" opacity=".55"/>
<rect x="821.7" y="231.7" width="2.8" height="22.4" fill="#27937c"/>
<rect x="826.1" y="230.2" width="1" height="9.0" fill="#d04b58" opacity=".55"/>
<rect x="825.2" y="231.8" width="2.8" height="5.8" fill="#d04b58"/>
<rect x="829.5" y="222.1" width="1" height="16.8" fill="#27937c" opacity=".55"/>
<rect x="828.6" y="224.5" width="2.8" height="11.2" fill="#27937c"/>
<rect x="833.0" y="217.3" width="1" height="13.0" fill="#27937c" opacity=".55"/>
<rect x="832.1" y="219.7" width="2.8" height="5.8" fill="#27937c"/>
<rect x="836.4" y="221.7" width="1" height="22.3" fill="#d04b58" opacity=".55"/>
<rect x="835.5" y="222.5" width="2.8" height="19.1" fill="#d04b58"/>
<rect x="839.9" y="220.0" width="1" height="30.5" fill="#d04b58" opacity=".55"/>
<rect x="839.0" y="241.2" width="2.8" height="7.7" fill="#d04b58"/>
<rect x="843.3" y="244.8" width="1" height="37.2" fill="#d04b58" opacity=".55"/>
<rect x="842.4" y="246.4" width="2.8" height="20.9" fill="#d04b58"/>
<rect x="846.8" y="261.0" width="1" height="13.0" fill="#27937c" opacity=".55"/>
<rect x="845.9" y="265.8" width="2.8" height="5.8" fill="#27937c"/>
<rect x="850.2" y="264.9" width="1" height="12.2" fill="#d04b58" opacity=".55"/>
<rect x="849.3" y="264.9" width="2.8" height="5.8" fill="#d04b58"/>
<rect x="853.7" y="246.9" width="1" height="23.8" fill="#27937c" opacity=".55"/>
<rect x="852.8" y="246.9" width="2.8" height="23.0" fill="#27937c"/>
<rect x="857.1" y="240.8" width="1" height="19.3" fill="#d04b58" opacity=".55"/>
<rect x="856.2" y="247.2" width="2.8" height="6.5" fill="#d04b58"/>
<rect x="860.6" y="251.9" width="1" height="24.4" fill="#d04b58" opacity=".55"/>
<rect x="859.7" y="253.5" width="2.8" height="16.4" fill="#d04b58"/>
<rect x="864.0" y="267.3" width="1" height="11.8" fill="#d04b58" opacity=".55"/>
<rect x="863.1" y="270.5" width="2.8" height="6.2" fill="#d04b58"/>
<rect x="867.5" y="273.3" width="1" height="11.8" fill="#d04b58" opacity=".55"/>
<rect x="866.6" y="275.7" width="2.8" height="7.0" fill="#d04b58"/>
<rect x="870.9" y="277.4" width="1" height="13.4" fill="#d04b58" opacity=".55"/>
<rect x="870.0" y="280.6" width="2.8" height="9.4" fill="#d04b58"/>
<rect x="874.4" y="286.3" width="1" height="16.5" fill="#d04b58" opacity=".55"/>
<rect x="873.5" y="286.3" width="2.8" height="13.3" fill="#d04b58"/>
<rect x="877.8" y="294.6" width="1" height="6.6" fill="#d04b58" opacity=".55"/>
<rect x="876.9" y="294.6" width="2.8" height="5.8" fill="#d04b58"/>
<rect x="881.3" y="299.8" width="1" height="12.2" fill="#d04b58" opacity=".55"/>
<rect x="880.4" y="301.4" width="2.8" height="5.8" fill="#d04b58"/>
<rect x="884.7" y="304.4" width="1" height="9.1" fill="#d04b58" opacity=".55"/>
<rect x="883.8" y="305.2" width="2.8" height="6.7" fill="#d04b58"/>
<rect x="888.1" y="295.3" width="1" height="24.1" fill="#27937c" opacity=".55"/>
<rect x="887.2" y="298.5" width="2.8" height="16.1" fill="#27937c"/>
<rect x="891.6" y="287.0" width="1" height="15.1" fill="#27937c" opacity=".55"/>
<rect x="890.7" y="291.8" width="2.8" height="7.9" fill="#27937c"/>
<rect x="895.0" y="286.1" width="1" height="9.0" fill="#27937c" opacity=".55"/>
<rect x="894.1" y="288.5" width="2.8" height="5.8" fill="#27937c"/>
<rect x="898.5" y="270.6" width="1" height="16.8" fill="#27937c" opacity=".55"/>
<rect x="897.6" y="270.6" width="2.8" height="15.2" fill="#27937c"/>
<rect x="901.9" y="266.1" width="1" height="15.4" fill="#27937c" opacity=".55"/>
<rect x="901.0" y="269.3" width="2.8" height="5.8" fill="#27937c"/>
<rect x="905.4" y="255.8" width="1" height="16.0" fill="#27937c" opacity=".55"/>
<rect x="904.5" y="262.2" width="2.8" height="8.0" fill="#27937c"/>
<rect x="908.8" y="249.8" width="1" height="18.8" fill="#27937c" opacity=".55"/>
<rect x="907.9" y="249.8" width="2.8" height="14.0" fill="#27937c"/>
<rect x="912.3" y="242.9" width="1" height="9.0" fill="#d04b58" opacity=".55"/>
<rect x="911.4" y="245.3" width="2.8" height="5.8" fill="#d04b58"/>
<rect x="915.7" y="243.3" width="1" height="8.2" fill="#27937c" opacity=".55"/>
<rect x="914.8" y="245.7" width="2.8" height="5.8" fill="#27937c"/>
<rect x="919.2" y="234.8" width="1" height="19.2" fill="#27937c" opacity=".55"/>
<rect x="918.3" y="239.6" width="2.8" height="8.0" fill="#27937c"/>
<rect x="922.6" y="218.7" width="1" height="19.7" fill="#27937c" opacity=".55"/>
<rect x="921.7" y="221.1" width="2.8" height="17.3" fill="#27937c"/>
<rect x="926.1" y="203.0" width="1" height="25.7" fill="#d04b58" opacity=".55"/>
<rect x="925.2" y="218.2" width="2.8" height="5.8" fill="#d04b58"/>
<rect x="929.5" y="184.5" width="1" height="37.5" fill="#27937c" opacity=".55"/>
<rect x="928.6" y="205.0" width="2.8" height="15.4" fill="#27937c"/>
<rect x="933.0" y="209.0" width="1" height="9.1" fill="#d04b58" opacity=".55"/>
<rect x="932.1" y="209.0" width="2.8" height="7.5" fill="#d04b58"/>
<rect x="936.4" y="216.4" width="1" height="19.1" fill="#d04b58" opacity=".55"/>
<rect x="935.5" y="218.0" width="2.8" height="15.9" fill="#d04b58"/>
<rect x="939.9" y="217.5" width="1" height="20.6" fill="#27937c" opacity=".55"/>
<rect x="939.0" y="223.9" width="2.8" height="9.4" fill="#27937c"/>
<rect x="943.3" y="219.0" width="1" height="21.5" fill="#d04b58" opacity=".55"/>
<rect x="942.4" y="225.4" width="2.8" height="14.3" fill="#d04b58"/>
<rect x="946.8" y="235.4" width="1" height="23.0" fill="#d04b58" opacity=".55"/>
<rect x="945.9" y="237.8" width="2.8" height="14.2" fill="#d04b58"/>
<rect x="950.2" y="247.0" width="1" height="14.6" fill="#27937c" opacity=".55"/>
<rect x="949.3" y="249.4" width="2.8" height="5.8" fill="#27937c"/>
<rect x="953.6" y="243.8" width="1" height="9.3" fill="#27937c" opacity=".55"/>
<rect x="952.7" y="244.6" width="2.8" height="8.5" fill="#27937c"/>
<rect x="957.1" y="222.8" width="1" height="27.4" fill="#27937c" opacity=".55"/>
<rect x="956.2" y="234.9" width="2.8" height="10.5" fill="#27937c"/>
<rect x="960.5" y="231.9" width="1" height="15.1" fill="#d04b58" opacity=".55"/>
<rect x="959.6" y="233.5" width="2.8" height="7.1" fill="#d04b58"/>
<rect x="964.0" y="232.1" width="1" height="40.7" fill="#d04b58" opacity=".55"/>
<rect x="963.1" y="238.5" width="2.8" height="31.1" fill="#d04b58"/>
<rect x="967.4" y="263.4" width="1" height="39.0" fill="#d04b58" opacity=".55"/>
<rect x="966.5" y="269.8" width="2.8" height="31.8" fill="#d04b58"/>
<rect x="970.9" y="290.0" width="1" height="15.0" fill="#27937c" opacity=".55"/>
<rect x="970.0" y="290.0" width="2.8" height="12.6" fill="#27937c"/>
<rect x="974.3" y="288.5" width="1" height="17.3" fill="#d04b58" opacity=".55"/>
<rect x="973.4" y="290.9" width="2.8" height="14.9" fill="#d04b58"/>
<rect x="977.8" y="304.7" width="1" height="23.9" fill="#d04b58" opacity=".55"/>
<rect x="976.9" y="304.7" width="2.8" height="23.1" fill="#d04b58"/>
<rect x="981.2" y="310.0" width="1" height="17.5" fill="#27937c" opacity=".55"/>
<rect x="980.3" y="314.8" width="2.8" height="10.3" fill="#27937c"/>
<rect x="984.7" y="308.2" width="1" height="11.4" fill="#27937c" opacity=".55"/>
<rect x="983.8" y="310.6" width="2.8" height="5.8" fill="#27937c"/>
<rect x="988.1" y="308.9" width="1" height="15.6" fill="#d04b58" opacity=".55"/>
<rect x="987.2" y="312.1" width="2.8" height="6.0" fill="#d04b58"/>
<rect x="991.6" y="310.2" width="1" height="23.8" fill="#d04b58" opacity=".55"/>
<rect x="990.7" y="316.6" width="2.8" height="11.0" fill="#d04b58"/>
<rect x="995.0" y="311.3" width="1" height="15.7" fill="#27937c" opacity=".55"/>
<rect x="994.1" y="312.9" width="2.8" height="12.5" fill="#27937c"/>
<rect x="998.5" y="295.6" width="1" height="18.5" fill="#27937c" opacity=".55"/>
<rect x="997.6" y="298.0" width="2.8" height="15.3" fill="#27937c"/>
<rect x="1001.9" y="292.9" width="1" height="10.6" fill="#27937c" opacity=".55"/>
<rect x="1001.0" y="294.5" width="2.8" height="5.8" fill="#27937c"/>
<rect x="1005.4" y="280.0" width="1" height="17.3" fill="#27937c" opacity=".55"/>
<rect x="1004.5" y="281.6" width="2.8" height="14.9" fill="#27937c"/>
<rect x="1008.8" y="271.2" width="1" height="12.2" fill="#27937c" opacity=".55"/>
<rect x="1007.9" y="277.6" width="2.8" height="5.8" fill="#27937c"/>
<rect x="1012.3" y="277.8" width="1" height="5.8" fill="#d04b58" opacity=".55"/>
<rect x="1011.4" y="277.8" width="2.8" height="5.8" fill="#d04b58"/>
<rect x="1015.7" y="262.0" width="1" height="26.7" fill="#d04b58" opacity=".55"/>
<rect x="1014.8" y="280.6" width="2.8" height="5.8" fill="#d04b58"/>
<rect x="1019.1" y="282.4" width="1" height="32.4" fill="#d04b58" opacity=".55"/>
<rect x="1018.2" y="284.0" width="2.8" height="30.0" fill="#d04b58"/>
<rect x="1022.6" y="298.7" width="1" height="15.4" fill="#27937c" opacity=".55"/>
<rect x="1021.7" y="305.1" width="2.8" height="5.8" fill="#27937c"/>
<rect x="1026.0" y="303.0" width="1" height="24.3" fill="#d04b58" opacity=".55"/>
<rect x="1025.1" y="306.2" width="2.8" height="14.7" fill="#d04b58"/>
<rect x="1029.5" y="312.6" width="1" height="18.6" fill="#27937c" opacity=".55"/>
<rect x="1028.6" y="319.0" width="2.8" height="5.8" fill="#27937c"/>
<rect x="1032.9" y="316.3" width="1" height="29.0" fill="#d04b58" opacity=".55"/>
<rect x="1032.0" y="321.1" width="2.8" height="21.0" fill="#d04b58"/>
<rect x="1036.4" y="332.7" width="1" height="9.5" fill="#27937c" opacity=".55"/>
<rect x="1035.5" y="332.7" width="2.8" height="7.9" fill="#27937c"/>
<rect x="1039.8" y="328.4" width="1" height="9.6" fill="#d04b58" opacity=".55"/>
<rect x="1038.9" y="330.0" width="2.8" height="8.0" fill="#d04b58"/>
<rect x="1043.3" y="335.0" width="1" height="17.0" fill="#27937c" opacity=".55"/>
<rect x="1042.4" y="335.8" width="2.8" height="5.8" fill="#27937c"/>
<rect x="1046.7" y="320.9" width="1" height="17.7" fill="#27937c" opacity=".55"/>
<rect x="1045.8" y="325.7" width="2.8" height="11.3" fill="#27937c"/>
<rect x="1050.2" y="327.1" width="1" height="13.1" fill="#d04b58" opacity=".55"/>
<rect x="1049.3" y="327.9" width="2.8" height="12.3" fill="#d04b58"/>
<rect x="1053.6" y="321.0" width="1" height="23.6" fill="#27937c" opacity=".55"/>
<rect x="1052.7" y="321.0" width="2.8" height="21.2" fill="#27937c"/>
<rect x="1057.1" y="314.3" width="1" height="9.8" fill="#d04b58" opacity=".55"/>
<rect x="1056.2" y="317.5" width="2.8" height="5.8" fill="#d04b58"/>
<rect x="1060.5" y="317.2" width="1" height="9.0" fill="#27937c" opacity=".55"/>
<rect x="1059.6" y="318.0" width="2.8" height="5.8" fill="#27937c"/>
<rect x="1064.0" y="316.3" width="1" height="23.1" fill="#d04b58" opacity=".55"/>
<rect x="1063.1" y="317.9" width="2.8" height="16.7" fill="#d04b58"/>
<rect x="1067.4" y="324.2" width="1" height="15.6" fill="#27937c" opacity=".55"/>
<rect x="1066.5" y="325.8" width="2.8" height="9.2" fill="#27937c"/>
<rect x="1070.9" y="320.6" width="1" height="8.2" fill="#27937c" opacity=".55"/>
<rect x="1070.0" y="323.0" width="2.8" height="5.8" fill="#27937c"/>
<rect x="1074.3" y="325.0" width="1" height="22.4" fill="#d04b58" opacity=".55"/>
<rect x="1073.4" y="326.6" width="2.8" height="16.0" fill="#d04b58"/>
<rect x="1077.8" y="328.8" width="1" height="12.3" fill="#27937c" opacity=".55"/>
<rect x="1076.9" y="329.6" width="2.8" height="11.5" fill="#27937c"/>
<rect x="1081.2" y="308.1" width="1" height="28.6" fill="#27937c" opacity=".55"/>
<rect x="1080.3" y="308.1" width="2.8" height="22.2" fill="#27937c"/>
<rect x="1084.7" y="301.8" width="1" height="9.8" fill="#27937c" opacity=".55"/>
<rect x="1083.8" y="303.4" width="2.8" height="5.8" fill="#27937c"/>
<rect x="1088.1" y="290.2" width="1" height="17.9" fill="#27937c" opacity=".55"/>
<rect x="1087.2" y="290.2" width="2.8" height="14.7" fill="#27937c"/>
<rect x="1091.5" y="276.3" width="1" height="13.4" fill="#27937c" opacity=".55"/>
<rect x="1090.6" y="278.7" width="2.8" height="11.0" fill="#27937c"/>
<rect x="1095.0" y="255.4" width="1" height="29.9" fill="#27937c" opacity=".55"/>
<rect x="1094.1" y="260.2" width="2.8" height="21.9" fill="#27937c"/>
<rect x="1098.4" y="237.6" width="1" height="24.8" fill="#27937c" opacity=".55"/>
<rect x="1097.5" y="238.4" width="2.8" height="20.8" fill="#27937c"/>
<rect x="1101.9" y="235.6" width="1" height="10.6" fill="#d04b58" opacity=".55"/>
<rect x="1101.0" y="238.0" width="2.8" height="5.8" fill="#d04b58"/>
<rect x="1105.3" y="227.7" width="1" height="18.8" fill="#27937c" opacity=".55"/>
<rect x="1104.4" y="234.1" width="2.8" height="11.6" fill="#27937c"/>
<rect x="1108.8" y="201.5" width="1" height="34.6" fill="#27937c" opacity=".55"/>
<rect x="1107.9" y="201.5" width="2.8" height="32.2" fill="#27937c"/>
<rect x="1112.2" y="198.2" width="1" height="30.8" fill="#d04b58" opacity=".55"/>
<rect x="1111.3" y="203.0" width="2.8" height="23.6" fill="#d04b58"/>
<rect x="1115.7" y="218.3" width="1" height="17.0" fill="#27937c" opacity=".55"/>
<rect x="1114.8" y="223.1" width="2.8" height="5.8" fill="#27937c"/>
<rect x="1119.1" y="211.0" width="1" height="18.1" fill="#27937c" opacity=".55"/>
<rect x="1118.2" y="222.6" width="2.8" height="5.8" fill="#27937c"/>
<rect x="1122.6" y="221.9" width="1" height="14.5" fill="#d04b58" opacity=".55"/>
<rect x="1121.7" y="222.7" width="2.8" height="7.3" fill="#d04b58"/>
<rect x="1126.0" y="223.4" width="1" height="8.5" fill="#27937c" opacity=".55"/>
<rect x="1125.1" y="223.4" width="2.8" height="6.1" fill="#27937c"/>
<rect x="1129.5" y="218.0" width="1" height="7.4" fill="#27937c" opacity=".55"/>
<rect x="1128.6" y="219.6" width="2.8" height="5.8" fill="#27937c"/>
<rect x="1132.9" y="213.8" width="1" height="13.0" fill="#d04b58" opacity=".55"/>
<rect x="1132.0" y="220.2" width="2.8" height="5.8" fill="#d04b58"/>
<rect x="1136.4" y="211.4" width="1" height="20.4" fill="#27937c" opacity=".55"/>
<rect x="1135.5" y="217.8" width="2.8" height="9.2" fill="#27937c"/>
<rect x="1139.8" y="202.7" width="1" height="26.4" fill="#d04b58" opacity=".55"/>
<rect x="1138.9" y="220.9" width="2.8" height="5.8" fill="#d04b58"/>
<rect x="1143.3" y="219.8" width="1" height="17.0" fill="#27937c" opacity=".55"/>
<rect x="1142.4" y="224.6" width="2.8" height="5.8" fill="#27937c"/>
<rect x="1146.7" y="207.7" width="1" height="24.3" fill="#27937c" opacity=".55"/>
<rect x="1145.8" y="210.9" width="2.8" height="14.4" fill="#27937c"/>
<rect x="1150.2" y="205.0" width="1" height="13.8" fill="#d04b58" opacity=".55"/>
<rect x="1149.3" y="209.8" width="2.8" height="5.8" fill="#d04b58"/>
<rect x="1153.6" y="208.6" width="1" height="15.3" fill="#d04b58" opacity=".55"/>
<rect x="1152.7" y="211.8" width="2.8" height="9.7" fill="#d04b58"/>
<rect x="1157.0" y="218.5" width="1" height="17.3" fill="#d04b58" opacity=".55"/>
<rect x="1156.1" y="221.7" width="2.8" height="7.7" fill="#d04b58"/>
<rect x="1160.5" y="209.3" width="1" height="23.8" fill="#27937c" opacity=".55"/>
<rect x="1159.6" y="215.7" width="2.8" height="15.0" fill="#27937c"/>
<rect x="1163.9" y="191.0" width="1" height="23.9" fill="#27937c" opacity=".55"/>
<rect x="1163.0" y="200.4" width="2.8" height="12.1" fill="#27937c"/>
<rect x="1167.4" y="198.7" width="1" height="14.2" fill="#d04b58" opacity=".55"/>
<rect x="1166.5" y="201.9" width="2.8" height="7.8" fill="#d04b58"/>
<rect x="1170.8" y="201.0" width="1" height="8.0" fill="#27937c" opacity=".55"/>
<rect x="1169.9" y="201.8" width="2.8" height="7.2" fill="#27937c"/>
<rect x="1174.3" y="181.6" width="1" height="22.0" fill="#27937c" opacity=".55"/>
<rect x="1173.4" y="186.4" width="2.8" height="14.0" fill="#27937c"/>
<rect x="1177.7" y="146.5" width="1" height="43.0" fill="#27937c" opacity=".55"/>
<rect x="1176.8" y="168.5" width="2.8" height="16.3" fill="#27937c"/>
<rect x="1181.2" y="151.7" width="1" height="18.0" fill="#27937c" opacity=".55"/>
<rect x="1180.3" y="164.0" width="2.8" height="5.8" fill="#27937c"/>
<rect x="1184.6" y="143.0" width="1" height="27.5" fill="#d04b58" opacity=".55"/>
<rect x="1183.7" y="162.1" width="2.8" height="8.4" fill="#d04b58"/>
<rect x="1188.1" y="157.7" width="1" height="13.1" fill="#27937c" opacity=".55"/>
<rect x="1187.2" y="160.1" width="2.8" height="9.1" fill="#27937c"/>
<rect x="1191.5" y="162.4" width="1" height="19.7" fill="#d04b58" opacity=".55"/>
<rect x="1190.6" y="163.2" width="2.8" height="14.1" fill="#d04b58"/>
<rect x="1195.0" y="176.1" width="1" height="26.3" fill="#d04b58" opacity=".55"/>
<rect x="1194.1" y="176.1" width="2.8" height="19.9" fill="#d04b58"/>
<rect x="1198.4" y="193.8" width="1" height="18.2" fill="#d04b58" opacity=".55"/>
<rect x="1197.5" y="194.6" width="2.8" height="5.8" fill="#d04b58"/>
<rect x="1201.9" y="182.8" width="1" height="19.7" fill="#27937c" opacity=".55"/>
<rect x="1201.0" y="189.2" width="2.8" height="10.9" fill="#27937c"/>
<rect x="1205.3" y="177.4" width="1" height="10.3" fill="#27937c" opacity=".55"/>
<rect x="1204.4" y="179.8" width="2.8" height="7.1" fill="#27937c"/>
<rect x="1208.8" y="178.0" width="1" height="32.0" fill="#27937c" opacity=".55"/>
<rect x="1207.9" y="178.8" width="2.8" height="5.8" fill="#27937c"/>
<rect x="1212.2" y="171.0" width="1" height="9.3" fill="#27937c" opacity=".55"/>
<rect x="1211.3" y="173.4" width="2.8" height="6.1" fill="#27937c"/>
<rect x="1215.7" y="159.0" width="1" height="18.5" fill="#27937c" opacity=".55"/>
<rect x="1214.8" y="169.3" width="2.8" height="5.8" fill="#27937c"/>
<rect x="1219.1" y="163.1" width="1" height="14.4" fill="#27937c" opacity=".55"/>
<rect x="1218.2" y="163.1" width="2.8" height="8.0" fill="#27937c"/>
<!-- labels -->
<rect x="28" y="159.4" width="50" height="19.6" fill="#1d9b7c"/>
<rect x="80" y="159.4" width="33.5" height="10.4" fill="#1d9b7c"/>
<text x="69.5" y="167.6" font-size="7.6" font-weight="bold" fill="#e8fff8" text-anchor="end" textLength="30" lengthAdjust="spacingAndGlyphs">2.286%</text>
<text x="69.5" y="176.6" font-size="7.6" fill="#c9f2e6" text-anchor="end" textLength="38" lengthAdjust="spacingAndGlyphs">04:07:53</text>
<text x="83" y="167.6" font-size="7.6" font-weight="bold" fill="#e8fff8" textLength="25.8" lengthAdjust="spacingAndGlyphs">SE10Y</text>
<!-- arrow -->
<path d="M1121.5 158.5 L1148 170.4 L1134.6 170.4 L1134.6 182 L1108.5 182 L1108.5 170.4 L1095.5 170.4 Z" fill="none" stroke="#0a0ad0" stroke-width="2" stroke-linejoin="miter"/>
<text x="1121.5" y="145" font-size="29" font-weight="bold" fill="#e6101a" text-anchor="middle" transform="translate(1121.5 0) scale(1.22 1) translate(-1121.5 0)">?</text>
<!-- tradingview logo -->
<g fill="#1a1a1a">
<path d="M23.9 637.9 H31.3 V640.7 H30.5 V644.3 H26.4 V640.7 H23.9 Z"/>
<circle cx="33.9" cy="639.5" r="1.55"/>
<path d="M36.2 637.9 H39.7 L37 644.3 H33.5 Z"/>
</g>
<text x="43.2" y="644.8" font-size="9.4" fill="#555" textLength="55.8" lengthAdjust="spacingAndGlyphs">TradingView</text>
</g>
</svg>
<div id="foot" class="abs"><span>ABILITY ASSET MANAGEMENT -  KAPITALFÖRVALTNING I VÄSTSVERIGE   |   WWW.AAM.SE</span></div>
</body></html>
